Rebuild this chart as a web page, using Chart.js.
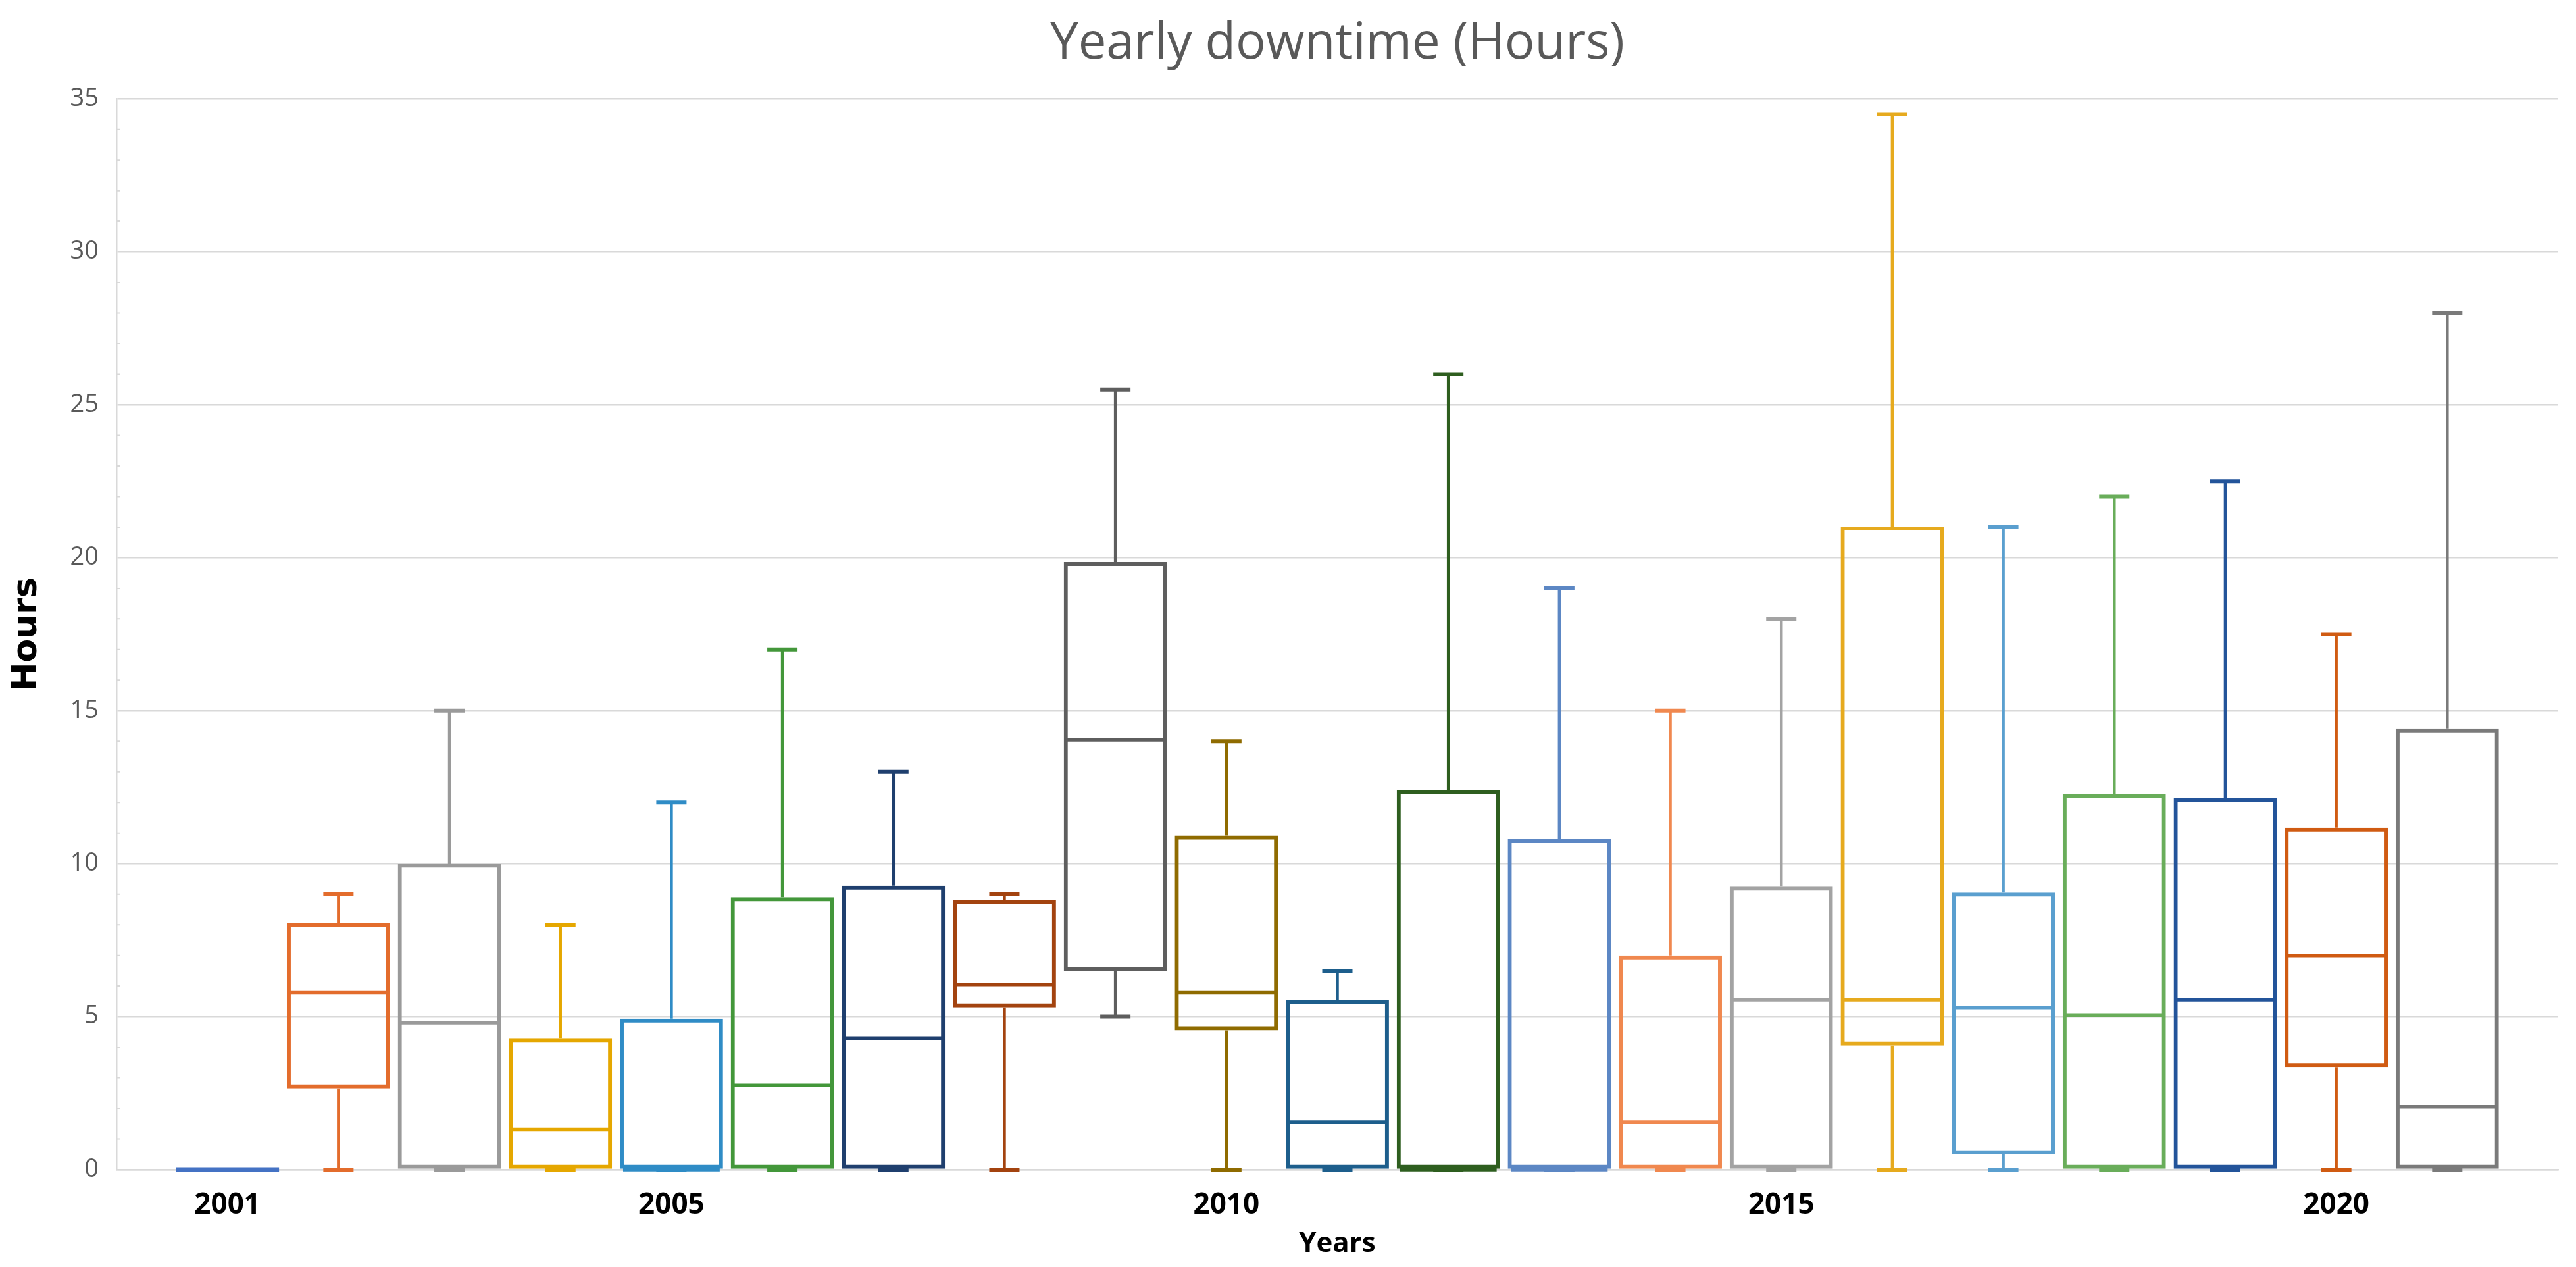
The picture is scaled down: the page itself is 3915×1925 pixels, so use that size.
<!DOCTYPE html>
<html>
<head>
<meta charset="utf-8">
<title>Yearly downtime (Hours)</title>
<script src="https://cdn.jsdelivr.net/npm/chart.js@4.4.1/dist/chart.umd.min.js"></script>
<style>
  html, body { margin: 0; padding: 0; background: #fff; }
  #wrap { width: 3915px; height: 1925px; }
</style>
</head>
<body>
<div id="wrap"><canvas id="chart"></canvas></div>
<script>
const years = [2001, 2002, 2003, 2004, 2005, 2006, 2007, 2008, 2009, 2010, 2011,
               2012, 2013, 2014, 2015, 2016, 2017, 2018, 2019, 2020, 2021];
const whiskerMin = [0, 0, 0, 0, 0, 0, 0, 0, 5, 0, 0, 0, 0, 0, 0, 0, 0, 0, 0, 0, 0];
const q1 = [0, 2.65, 0, 0, 0, 0, 0, 5.3, 6.5, 4.55, 0, 0, 0, 0, 0, 4.05, 0.5, 0, 0, 3.35, 0];
const median = [0, 5.8, 4.8, 1.3, 0, 2.75, 4.3, 6.05, 14.05, 5.8, 1.55, 0, 0, 1.55, 5.55, 5.55, 5.3, 5.05, 5.55, 7, 2.05];
const q3 = [0, 8.05, 10, 4.3, 4.93, 8.9, 9.28, 8.8, 19.86, 10.92, 5.55, 12.4, 10.8, 7, 9.27, 21.02, 9.05, 12.27, 12.14, 11.17, 14.42];
const whiskerMax = [0, 9, 15, 8, 12, 17, 13, 9, 25.5, 14, 6.5, 26, 19, 15, 18, 34.5, 21, 22, 22.5, 17.5, 28];
const xTicks = [2001, 2005, 2010, 2015, 2020];

const colors = ['#4472C4', '#E36C2C', '#9A9A9A', '#E5A700', '#2F8CC6', '#43973A', '#1F3F6E',
                '#A3430F', '#5E5E5E', '#8F6B00', '#1D5E8C', '#2E5E1F', '#5C87C4', '#F0884F',
                '#A3A3A3', '#E6AA1E', '#5A9FCF', '#69AD5A', '#23549A', '#D05B12', '#7A7A7A'];

// whiskers, caps, medians and minor y ticks
const boxExtras = {
  id: 'boxExtras',
  afterDatasetsDraw(chart) {
    const ctx = chart.ctx;
    const xs = chart.scales.x, ys = chart.scales.y;
    const bars = chart.getDatasetMeta(0).data;
    ctx.save();
    ctx.lineCap = 'butt';
    years.forEach((yr, i) => {
      const x = xs.getPixelForValue(yr);
      const half = bars[i].width / 2;
      const flat = q3[i] === q1[i];
      ctx.strokeStyle = colors[i];

      // stems
      ctx.lineWidth = 4.5;
      ctx.beginPath();
      if (whiskerMax[i] > q3[i]) {
        ctx.moveTo(x, ys.getPixelForValue(q3[i]));
        ctx.lineTo(x, ys.getPixelForValue(whiskerMax[i]));
      }
      if (whiskerMin[i] < q1[i]) {
        ctx.moveTo(x, ys.getPixelForValue(q1[i]));
        ctx.lineTo(x, ys.getPixelForValue(whiskerMin[i]));
      }
      ctx.stroke();

      // caps
      ctx.lineWidth = 6;
      ctx.beginPath();
      if (whiskerMax[i] > q3[i]) {
        const yt = ys.getPixelForValue(whiskerMax[i]);
        ctx.moveTo(x - 23, yt); ctx.lineTo(x + 23, yt);
      }
      if (!flat && whiskerMin[i] <= q1[i]) {
        const yb = ys.getPixelForValue(whiskerMin[i]);
        ctx.moveTo(x - 23, yb); ctx.lineTo(x + 23, yb);
      }
      ctx.stroke();

      // median
      const ym = ys.getPixelForValue(median[i]);
      ctx.lineWidth = flat ? 7 : 5.5;
      ctx.beginPath();
      ctx.moveTo(x - half + (flat ? 0 : 5), ym);
      ctx.lineTo(x + half - (flat ? 0 : 5), ym);
      ctx.stroke();
    });

    // minor ticks on the y axis
    ctx.strokeStyle = '#d9d9d9';
    ctx.lineWidth = 2;
    ctx.beginPath();
    for (let v = 1; v < 35; v++) {
      if (v % 5 === 0) continue;
      const y = ys.getPixelForValue(v);
      ctx.moveTo(xs.left, y);
      ctx.lineTo(xs.left + 5, y);
    }
    ctx.stroke();
    ctx.restore();
  }
};

const ctx = document.getElementById('chart').getContext('2d');
new Chart(ctx, {
  type: 'bar',
  data: {
    datasets: [{
      data: years.map((yr, i) => ({ x: yr, y: [q1[i], q3[i]] })),
      backgroundColor: 'rgba(0,0,0,0)',
      borderColor: colors,
      borderWidth: 6,
      borderSkipped: false,
      barPercentage: 0.93,
      categoryPercentage: 1
    }]
  },
  options: {
    responsive: true,
    maintainAspectRatio: false,
    devicePixelRatio: 1,
    animation: false,
    events: [],
    layout: { padding: { left: 0, right: 27, top: 0, bottom: 0 } },
    plugins: {
      legend: { display: false },
      tooltip: { enabled: false },
      title: {
        display: true,
        fullSize: false,
        text: 'Yearly downtime (Hours)',
        color: '#595959',
        font: { family: 'Open Sans', size: 76, weight: 'normal' },
        padding: { top: 22, bottom: 37 }
      }
    },
    scales: {
      x: {
        type: 'linear',
        min: 2000,
        max: 2022,
        offset: false,
        grid: { display: false, drawTicks: false },
        border: { display: true, color: '#d9d9d9', width: 2.5 },
        afterBuildTicks: s => { s.ticks = xTicks.map(v => ({ value: v })); },
        afterFit: s => { s.height = 148; },
        ticks: {
          autoSkip: false,
          maxRotation: 0,
          padding: 28,
          color: '#000',
          font: { family: 'Open Sans', size: 44, weight: 'bold' },
          callback: v => String(v)
        },
        title: {
          display: true,
          text: 'Years',
          color: '#000',
          font: { family: 'Open Sans', size: 42, weight: 'bold' },
          padding: { top: 0, bottom: 10 }
        }
      },
      y: {
        min: 0,
        max: 35,
        grid: { color: '#d9d9d9', lineWidth: 2.5, drawTicks: false },
        border: { display: true, color: '#d9d9d9', width: 2.5 },
        afterFit: s => { s.width = 177; },
        ticks: {
          stepSize: 5,
          padding: 27,
          color: '#595959',
          font: { family: 'Open Sans', size: 38 }
        },
        title: {
          display: true,
          text: 'Hours',
          color: '#000',
          font: { family: 'DejaVu Sans', size: 52, weight: 'bold' },
          padding: { top: 10, bottom: 0 }
        }
      }
    }
  },
  plugins: [boxExtras]
});
</script>
</body>
</html>
